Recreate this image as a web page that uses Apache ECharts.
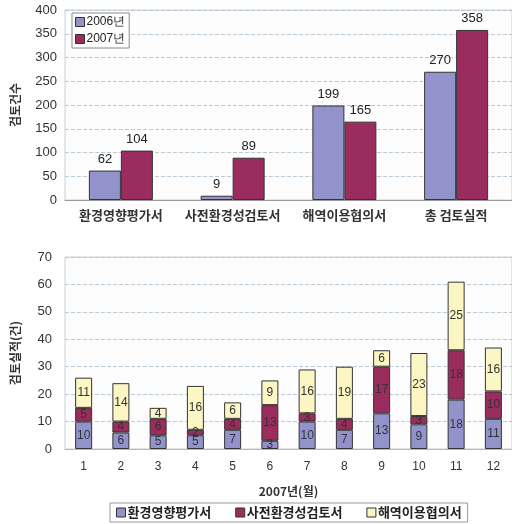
<!DOCTYPE html>
<html><head><meta charset="utf-8">
<script src="https://cdn.jsdelivr.net/npm/echarts@6/dist/echarts.min.js"></script>
<style>html,body{margin:0;padding:0;background:#fff}#c{width:512px;height:524px}</style>
</head><body><div id="c"></div>
<script>
const topCategories = ['환경영향평가서','사전환경성검토서','해역이용협의서','총 검토실적'];
const topSeriesNames = ['2006년','2007년'];
const values2006 = [62, 9, 199, 270];
const values2007 = [104, 89, 165, 358];

const months = ['1','2','3','4','5','6','7','8','9','10','11','12'];
const stackNames = ['환경영향평가서','사전환경성검토서','해역이용협의서'];
const eia = [10, 6, 5, 5, 7, 3, 10, 7, 13, 9, 18, 11];
const pre = [5, 4, 6, 2, 4, 13, 3, 4, 17, 3, 18, 10];
const sea = [11, 14, 4, 16, 6, 9, 16, 19, 6, 23, 25, 16];

const cBlue = '#9393cc', cMaroon = '#9b2d5e', cYellow = '#fbf6c4';
const font = "'Noto Sans CJK KR', sans-serif";
const numFont = "'Liberation Sans', Arial, sans-serif";

const chart = echarts.init(document.getElementById('c'));
const gridLine = {show:true, lineStyle:{type:'dashed', color:'#b9c9d6', width:1}};
const barLabelTop = {show:true, position:'top', color:'#222', fontSize:13, fontFamily:numFont};
const inLabel = {show:true, position:'inside', color:'#333', fontSize:12, fontFamily:numFont};
chart.setOption({
  backgroundColor:'#fff',
  animation:false,
  legend:[
    {data:topSeriesNames, orient:'vertical', left:72, top:13, itemWidth:9, itemHeight:9, itemGap:5,
     borderColor:'#8a8a8a', borderWidth:1, padding:[3,4,3,3], backgroundColor:'#fff',
     textStyle:{fontSize:12, color:'#222', fontFamily:numFont, padding:[0,0,0,-3]}, icon:'rect',
     itemStyle:{borderColor:'#333', borderWidth:1}},
    {data:stackNames, orient:'horizontal', left:110, bottom:2, itemWidth:9, itemHeight:9, itemGap:24,
     borderColor:'#9a9a9a', borderWidth:1, padding:[3,6], icon:'rect',
     textStyle:{fontSize:13, color:'#222', fontFamily:font, fontWeight:'bold', padding:[0,0,0,-3]},
     itemStyle:{borderColor:'#333', borderWidth:1}}
  ],
  grid:[
    {left:65, right:-5, top:10, height:190, show:true, borderColor:'#c8d0d8', backgroundColor:'#fdfdfd'},
    {left:65, right:-5, top:257, height:192, show:true, borderColor:'#c8d0d8', backgroundColor:'#fdfdfd'}
  ],
  xAxis:[
    {type:'category', gridIndex:0, data:topCategories,
     axisLine:{lineStyle:{color:'#999'}}, axisTick:{inside:true, length:4, lineStyle:{color:'#999'}},
     axisLabel:{color:'#333', fontSize:13, fontFamily:font, fontWeight:'bold', margin:9, interval:0}},
    {type:'category', gridIndex:1, data:months, name:'2007년(월)', nameLocation:'middle', nameGap:36,
     nameTextStyle:{color:'#333', fontSize:12, fontFamily:font, fontWeight:'bold'},
     axisLine:{lineStyle:{color:'#d9a9a9'}}, axisTick:{inside:true, length:4, lineStyle:{color:'#aaa'}},
     axisLabel:{color:'#333', fontSize:12, fontFamily:numFont, margin:12}}
  ],
  yAxis:[
    {type:'value', gridIndex:0, min:0, max:400, interval:50, name:'검토건수', nameLocation:'middle', nameGap:44, nameRotate:90,
     nameTextStyle:{color:'#333', fontSize:12, fontFamily:font, fontWeight:'bold'},
     axisLine:{show:false}, axisTick:{show:false}, splitLine:gridLine,
     axisLabel:{color:'#333', fontSize:13, fontFamily:numFont, margin:8}},
    {type:'value', gridIndex:1, min:0, max:70, interval:10, name:'검토실적(건)', nameLocation:'middle', nameGap:44, nameRotate:90,
     nameTextStyle:{color:'#333', fontSize:12, fontFamily:font, fontWeight:'bold'},
     axisLine:{show:false}, axisTick:{show:false}, splitLine:gridLine,
     axisLabel:{color:'#333', fontSize:13, fontFamily:numFont, margin:13}}
  ],
  series:[
    {name:topSeriesNames[0], type:'bar', xAxisIndex:0, yAxisIndex:0, data:values2006, barWidth:32, barGap:'0%',
     itemStyle:{color:cBlue, borderColor:'#333', borderWidth:1}, label:barLabelTop},
    {name:topSeriesNames[1], type:'bar', xAxisIndex:0, yAxisIndex:0, data:values2007, barWidth:32, barGap:'0%',
     itemStyle:{color:cMaroon, borderColor:'#333', borderWidth:1}, label:barLabelTop},
    {name:stackNames[0], type:'bar', stack:'m', xAxisIndex:1, yAxisIndex:1, data:eia, barWidth:17,
     itemStyle:{color:cBlue, borderColor:'#333', borderWidth:1}, label:inLabel},
    {name:stackNames[1], type:'bar', stack:'m', xAxisIndex:1, yAxisIndex:1, data:pre, barWidth:17,
     itemStyle:{color:cMaroon, borderColor:'#333', borderWidth:1}, label:inLabel},
    {name:stackNames[2], type:'bar', stack:'m', xAxisIndex:1, yAxisIndex:1, data:sea, barWidth:17,
     itemStyle:{color:cYellow, borderColor:'#333', borderWidth:1}, label:inLabel}
  ]
});
</script></body></html>
